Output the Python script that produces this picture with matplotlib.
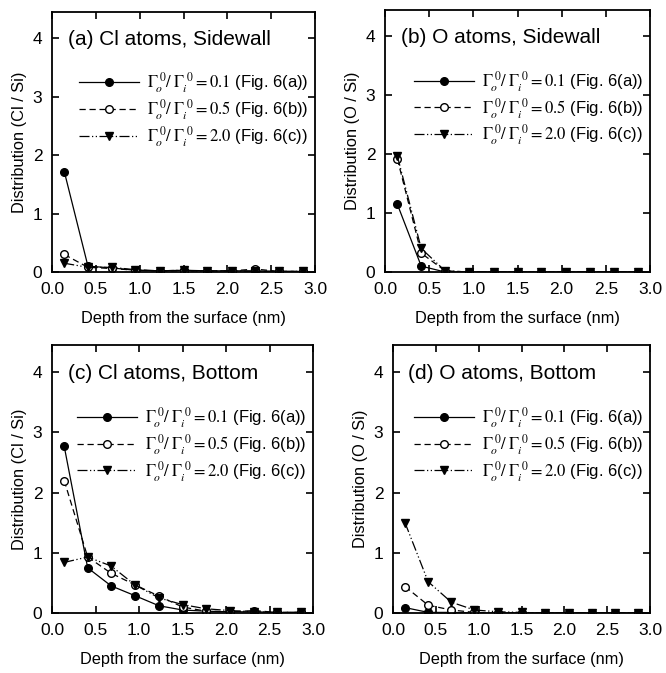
import numpy as np
import matplotlib
matplotlib.use("Agg")
import matplotlib.pyplot as plt

plt.rcParams['font.family'] = ['Liberation Sans', 'DejaVu Sans']
plt.rcParams['mathtext.fontset'] = 'stix'

# depth bins (nm), 11 layers over 3 nm
depth = [0.14, 0.41, 0.68, 0.95, 1.23, 1.50, 1.77, 2.05, 2.32, 2.59, 2.86]

cl_side_01 = [1.72, 0.10, 0.07, 0.03, 0.02, 0.03, 0.02, 0.02, 0.02, 0.01, 0.01]
cl_side_05 = [0.30, 0.08, 0.06, 0.03, 0.02, 0.02, 0.02, 0.02, 0.05, 0.01, 0.01]
cl_side_20 = [0.15, 0.08, 0.08, 0.04, 0.02, 0.03, 0.01, 0.02, 0.01, 0.01, 0.01]

o_side_01 = [1.15, 0.10, 0.00, 0.00, 0.00, 0.00, 0.00, 0.00, 0.00, 0.00, 0.00]
o_side_05 = [1.92, 0.32, 0.02, 0.00, 0.00, 0.00, 0.00, 0.00, 0.00, 0.00, 0.00]
o_side_20 = [1.97, 0.40, 0.02, 0.00, 0.00, 0.00, 0.00, 0.00, 0.00, 0.00, 0.00]

cl_bot_01 = [2.77, 0.75, 0.45, 0.29, 0.12, 0.05, 0.03, 0.02, 0.02, 0.01, 0.01]
cl_bot_05 = [2.20, 0.93, 0.66, 0.47, 0.28, 0.10, 0.03, 0.02, 0.04, 0.01, 0.01]
cl_bot_20 = [0.84, 0.93, 0.78, 0.47, 0.25, 0.14, 0.07, 0.04, 0.02, 0.01, 0.01]

o_bot_01 = [0.09, 0.01, 0.01, 0.00, 0.00, 0.00, 0.00, 0.00, 0.00, 0.00, 0.00]
o_bot_05 = [0.44, 0.13, 0.05, 0.01, 0.00, 0.00, 0.00, 0.00, 0.00, 0.00, 0.00]
o_bot_20 = [1.50, 0.52, 0.18, 0.05, 0.02, 0.01, 0.00, 0.00, 0.00, 0.00, 0.00]

labels = [r'$\Gamma_{\!o}^{\;0}/\;\Gamma_{\!i}^{\;0} = 0.1$ (Fig. 6(a))',
          r'$\Gamma_{\!o}^{\;0}/\;\Gamma_{\!i}^{\;0} = 0.5$ (Fig. 6(b))',
          r'$\Gamma_{\!o}^{\;0}/\;\Gamma_{\!i}^{\;0} = 2.0$ (Fig. 6(c))']

panels = [
    ("(a) Cl atoms, Sidewall", "Distribution (Cl / Si)", [cl_side_01, cl_side_05, cl_side_20]),
    ("(b) O atoms, Sidewall", "Distribution (O / Si)", [o_side_01, o_side_05, o_side_20]),
    ("(c) Cl atoms, Bottom", "Distribution (Cl / Si)", [cl_bot_01, cl_bot_05, cl_bot_20]),
    ("(d) O atoms, Bottom", "Distribution (O / Si)", [o_bot_01, o_bot_05, o_bot_20]),
]

# axes boxes in pixels (left, right, top, bottom)
boxes = [(52, 315, 12, 272), (385, 650, 10, 272), (52, 313, 345, 613), (393, 650, 345, 613)]
W, H = 666, 673

fig = plt.figure(figsize=(6.66, 6.73), dpi=100)

styles = [dict(ls='-', marker='o', mfc='black', mec='black'),
          dict(ls=(0, (5, 3)), marker='o', mfc='white', mec='black'),
          dict(ls=(0, (8, 2, 1, 2, 1, 2)), marker='v', mfc='black', mec='black')]

for (title, ylab, series), (l, r, t, b) in zip(panels, boxes):
    ax = fig.add_axes([l / W, 1 - b / H, (r - l) / W, (b - t) / H])
    for ys, st, lab in zip(series, styles, labels):
        ax.plot(depth, ys, color='black', lw=0.9, ms=5.5, label=lab, **st)
    ax.set_xlim(0, 3.0)
    ax.set_ylim(0, 4.45)
    ax.set_xticks(np.arange(0, 3.01, 0.5))
    ax.set_yticks([0, 1, 2, 3, 4])
    ax.set_xticklabels(['0.0', '0.5', '1.0', '1.5', '2.0', '2.5', '3.0'])
    ax.tick_params(direction='in', top=True, right=True, labelsize=12.5, length=5, width=1.2)
    ax.tick_params(axis='x', pad=7)
    ax.tick_params(axis='y', pad=7)
    for sp in ax.spines.values():
        sp.set_linewidth(1.3)
    ax.set_xlabel("Depth from the surface (nm)", fontsize=11.8, labelpad=10)
    ax.set_ylabel(ylab, fontsize=11.8, labelpad=4)
    ax.text(0.06, 0.93, title, transform=ax.transAxes, fontsize=15, va='top', ha='left')
    ax.legend(loc='upper right', bbox_to_anchor=(1.0, 0.80), frameon=False, fontsize=12,
              handlelength=3.6, handletextpad=0.5, labelspacing=0.12, borderaxespad=0.0)

fig.savefig("out.png", dpi=100)
